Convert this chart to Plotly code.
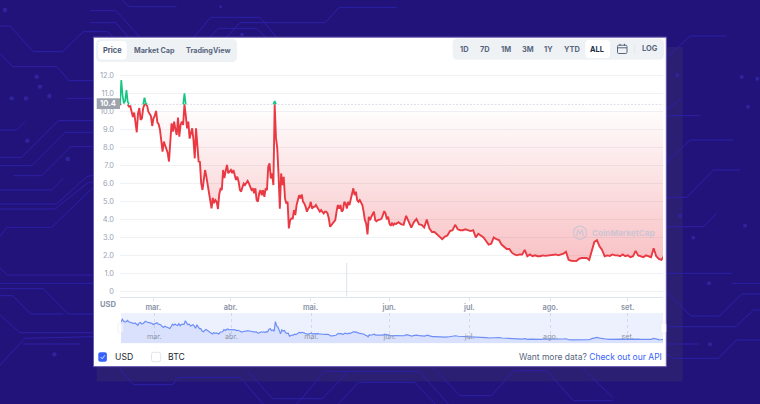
import numpy as np
import pandas as pd
import plotly.graph_objects as go

W, H = 760, 404

# ---------- data ----------
price_12h = [
10.4,11.76,10.89,10.46,10.6,11.2,10.55,10.28,10.3,10.0,9.7,9.95,9.5,8.85,9.9,10.2,9.54,9.63,10.2,10.78,
10.46,10.33,10.0,9.9,9.75,9.2,9.63,9.78,10.04,9.4,9.3,9.0,8.18,7.77,8.33,8.1,7.9,7.7,7.22,8.24,
9.35,8.89,9.44,9.0,8.7,9.67,8.6,9.26,9.44,9.26,11.02,9.8,9.07,9.44,8.5,8.8,9.07,8.42,7.4,9.07,
8.05,7.22,7.2,6.0,5.64,6.4,6.75,6.38,5.95,5.6,5.0,4.62,5.2,4.9,5.08,4.99,4.58,5.4,5.7,5.64,
6.75,6.3,6.7,7.03,6.57,6.7,6.75,6.57,6.75,6.47,6.2,6.38,6.1,5.64,5.55,5.8,6.0,5.92,6.05,6.14,
6.0,5.8,5.64,5.73,5.45,5.73,5.08,4.99,5.45,5.63,5.35,5.63,5.26,5.73,5.63,6.93,7.12,6.28,6.56,5.91,
10.59,8.55,7.95,6.47,4.6,6.56,5.91,6.37,5.17,4.89,4.98,3.5,3.96,4.05,4.05,4.52,4.24,4.8,5.17,5.35,
5.17,5.39,4.98,4.89,4.7,4.43,4.6,4.7,4.98,4.6,4.7,4.7,4.8,4.7,4.6,4.43,4.52,4.43,4.33,4.43,
4.43,4.33,4.05,3.59,3.68,3.78,3.87,3.96,4.43,4.8,4.6,4.8,4.43,4.52,4.98,4.89,4.6,4.98,4.8,5.17,
5.45,5.73,5.35,5.54,5.08,4.98,5.08,4.89,4.8,4.43,3.96,3.78,3.17,4.15,3.96,4.15,4.33,4.43,3.96,3.9,
3.96,3.96,4.0,4.05,4.24,4.46,4.33,4.0,4.15,3.78,3.65,3.78,3.68,3.78,
]
price_daily = [
3.74,3.85,3.74,3.7,4.2,3.9,3.55,3.85,4.02,3.72,3.7,3.55,4.0,3.5,3.3,3.3,3.15,3.0,2.9,3.05,
3.1,3.35,3.4,3.7,3.45,3.4,3.4,3.45,3.4,3.35,3.4,3.0,3.2,3.1,3.0,2.8,2.6,2.65,3.0,2.9,
2.85,2.6,2.5,2.35,2.35,2.15,2.05,2.0,2.05,2.05,2.3,1.95,2.05,1.95,2.0,1.95,1.95,2.0,1.97,2.0,
2.02,2.05,2.05,2.0,2.05,2.1,2.2,1.75,1.7,1.68,1.68,1.8,1.85,1.85,1.85,1.75,2.3,2.75,2.85,2.5,
2.3,1.95,2.0,1.97,2.05,2.0,2.0,1.95,2.05,1.95,2.0,1.9,1.95,2.25,2.0,1.95,1.9,2.0,1.95,1.9,
2.4,1.95,1.8,1.75,1.95,
]
base_price = 10.4
volume_dates = ["2021-05-15"]
volume_values = [33.7]
y_ticks = [0, 1, 2, 3, 4, 5, 6, 7, 8, 9, 10, 11, 12]
y_labels = ["0", "1.0", "2.0", "3.0", "4.0", "5.0", "6.0", "7.0", "8.0", "9.0", "10.0", "11.0", "12.0"]
month_dates = ["2021-03-01", "2021-03-31", "2021-05-01", "2021-05-31 12:00", "2021-07-01 14:00", "2021-08-02", "2021-09-01"]
month_labels = ["mar.", "abr.", "mai.", "jun.", "jul.", "ago.", "set."]
range_tabs = ["1D", "7D", "1M", "3M", "1Y", "YTD", "ALL"]

dates_a = pd.date_range("2021-02-16 02:00", periods=len(price_12h), freq="12h")
dates_b = pd.date_range(dates_a[-1] + pd.Timedelta(hours=12), periods=len(price_daily), freq="24h")
dates = dates_a.append(dates_b)
price = np.array(price_12h + price_daily)
baseline = np.full(len(price), base_price)

def keep_side(mask):
    left = np.r_[mask[1:], False]
    right = np.r_[False, mask[:-1]]
    return mask | left | right

red_line = np.where(keep_side(price <= base_price), np.minimum(price, base_price), np.nan)
green_line = np.where(keep_side(price > base_price), np.maximum(price, base_price), np.nan)
fill_edge = np.minimum(price, base_price)

# ---------- helpers ----------
fx = lambda x: x / W
fy = lambda y: 1 - y / H
FONT = "Inter"

def rrect(x0, y0, x1, y1, r):
    return (f"M{fx(x0+r)},{fy(y0)} L{fx(x1-r)},{fy(y0)} Q{fx(x1)},{fy(y0)} {fx(x1)},{fy(y0+r)} "
            f"L{fx(x1)},{fy(y1-r)} Q{fx(x1)},{fy(y1)} {fx(x1-r)},{fy(y1)} L{fx(x0+r)},{fy(y1)} "
            f"Q{fx(x0)},{fy(y1)} {fx(x0)},{fy(y1-r)} L{fx(x0)},{fy(y0+r)} Q{fx(x0)},{fy(y0)} {fx(x0+r)},{fy(y0)} Z")

shapes, notes = [], []

def rect(x0, y0, x1, y1, fill, line=None, lw=0):
    shapes.append(dict(type="rect", xref="paper", yref="paper", x0=fx(x0), x1=fx(x1), y0=fy(y0), y1=fy(y1),
                       fillcolor=fill, line=dict(width=lw, color=line or fill), layer="below"))

def round_box(x0, y0, x1, y1, r, fill, line="rgba(0,0,0,0)", lw=0):
    shapes.append(dict(type="path", xref="paper", yref="paper", path=rrect(x0, y0, x1, y1, r),
                       fillcolor=fill, line=dict(width=lw, color=line), layer="below"))

def poly(points, color, lw=1.0):
    d = "M" + " L".join(f"{fx(x)},{fy(y)}" for x, y in points)
    shapes.append(dict(type="path", xref="paper", yref="paper", path=d, line=dict(width=lw, color=color), layer="below"))

def dot(x, y, r, color):
    shapes.append(dict(type="circle", xref="paper", yref="paper", x0=fx(x-r), x1=fx(x+r), y0=fy(y-r), y1=fy(y+r),
                       fillcolor=color, line=dict(width=0), layer="below"))

def text(x, y, s, size=7.5, color="#58667e", anchor="center", bold=False):
    notes.append(dict(xref="paper", yref="paper", x=fx(x), y=fy(y), text=f"<b>{s}</b>" if bold else s, showarrow=False,
                      xanchor=anchor, yanchor="middle", font=dict(family=FONT, size=size, color=color)))

# ---------- page background ----------
rect(96.7, 47, 682.7, 381.5, "#2a1f72")
CIRCUIT = "#2c20a6"
left_paths = [
 [(0,78),(30,78),(100,155),(188,155),(250,95),(282,95)],
 [(0,160),(38,200),(170,200),(207,242),(282,242)],
 [(200,295),(282,295)],
 [(0,390),(50,390),(75,365)],
 [(0,472),(65,472),(175,362),(282,362)],
 [(0,497),(95,497),(195,397),(282,397)],
 [(40,527),(125,527),(212,440),(282,440)],
 [(0,570),(155,570),(190,535)],
 [(0,612),(170,612),(260,530),(282,525)],
 [(0,627),(165,627),(265,547),(282,547)],
 [(0,710),(20,682),(155,682),(282,560)],
 [(0,805),(22,825),(282,825)],
 [(0,850),(282,850)],
 [(0,887),(38,887),(92,942),(190,942)],
 [(0,866),(130,866),(205,942),(282,942)],
 [(0,945),(60,998),(282,998)],
 [(0,1095),(75,1015),(282,1010)],
 [(70,1032),(240,1032)],
]
for p in left_paths:
    poly([(x/3, y/3) for x, y in p], CIRCUIT)
right_paths = [
 [(18,175),(90,108),(200,108)],
 [(18,330),(65,295)],
 [(18,347),(120,347)],
 [(18,490),(90,420),(220,420)],
 [(18,592),(80,592),(160,510),(240,510)],
 [(18,680),(130,680),(170,640)],
 [(18,820),(215,820)],
 [(215,850),(300,850)],
 [(18,875),(93,948),(178,948),(245,882),(300,882)],
 [(18,980),(228,980),(280,930),(300,930)],
 [(18,1060),(40,1075),(175,1075),(230,1020),(300,1020)],
 [(18,1032),(115,1032)],
]
for p in right_paths:
    poly([(660+x/3, y/3) for x, y in p], CIRCUIT)
top_paths = [
 [(95,0),(118,20),(260,20)],
 [(0,32),(78,32),(150,112)],
 [(0,68),(78,68),(115,112)],
 [(0,95),(52,95),(70,112)],
 [(312,112),(362,52),(510,52),(560,112)],
 [(360,112),(385,85),(500,85),(527,112)],
 [(410,112),(450,68),(705,68),(748,22),(920,22)],
]
for p in top_paths:
    poly([(90+x/3, y/3) for x, y in p], CIRCUIT)
bottom_paths = [
 [(90,15),(130,62),(248,62),(265,40),(450,40),(520,120)],
 [(470,18),(548,104),(697,104),(775,22),(988,22),(1075,120)],
 [(620,120),(705,22),(775,22)],
 [(745,120),(805,55),(975,55),(1035,120)],
 [(1030,12),(1110,95),(1205,95),(1270,20),(1370,20),(1450,110),(1568,110)],
 [(1480,15),(1568,100)],
]
for p in bottom_paths:
    poly([(90+x/3, 364+y/3) for x, y in p], CIRCUIT)
for x, y in [(110,230),(120,260),(35,295),(78,295),(148,288),(82,422),(203,477),(15,30),(163,1063)]:
    dot(x/3, y/3, 2.2, "#30249c")
for x, y in [(245,231),(292,236),(264,320),(52,226),(60,647),(255,677),(100,713),(147,850),(150,1033)]:
    dot(660+x/3, y/3, 2.0, "#30249c")
dot(90+392/3, 20/3, 1.5, "#30249c")
dot(90+456/3, 104/3, 1.8, "#30249c")

# ---------- card ----------
rect(93.5, 37.2, 666.3, 366.6, "#ffffff", "#6a5db0", 1)
# button groups
round_box(96, 39, 237, 62, 5, "#eff2f5")
round_box(98.3, 41, 126.7, 59.6, 4, "#ffffff")
text(112.5, 50.2, "Price", 7.4, "#4a556b", bold=True)
text(154, 50.2, "Market Cap", 7.2, "#58667e", bold=True)
text(208.8, 50.2, "TradingView", 7.2, "#58667e", bold=True)
round_box(452.7, 38.5, 664, 59.7, 5, "#eff2f5")
round_box(585.3, 40, 610, 58, 4, "#ffffff")
for cx, lab in zip([464.7, 485, 506, 527.7, 548.7, 571.7, 597.3], range_tabs):
    text(cx, 49, lab, 7.4, "#222f45" if lab == "ALL" else "#58667e", bold=True)
text(649.7, 48.3, "LOG", 7.4, "#58667e", bold=True)
poly([(634.7, 44), (634.7, 54)], "#dfe3ea", 0.8)
round_box(617.5, 45.2, 627, 53.5, 1.2, "rgba(0,0,0,0)", "#58667e", 1)
poly([(617.5, 47.8), (627, 47.8)], "#58667e", 1)
poly([(620, 43.8), (620, 46)], "#58667e", 1)
poly([(624.5, 43.8), (624.5, 46)], "#58667e", 1)

# navigator band
rect(121, 313, 663, 343.3, "#edf1fd")
round_box(118, 323, 124, 333, 1.5, "#ffffff", "#dfe3ea", 0.5)
round_box(661, 323, 666, 333, 1.5, "#ffffff", "#dfe3ea", 0.5)

# price tag
rect(96.7, 98.3, 120, 109, "#9ea3ad")
text(108, 103.8, f"{base_price}", 7.6, "#ffffff", bold=True)
text(108.5, 304.5, "USD", 7.6, "#8a93a6", bold=True)

# watermark
WM = "rgba(176,192,214,0.62)"
shapes.append(dict(type="circle", xref="paper", yref="paper", x0=fx(573.5), x1=fx(586.5), y0=fy(226), y1=fy(239.4),
                   line=dict(width=1.2, color=WM), layer="above"))
poly([(576.5, 236), (578, 229.8), (580, 234), (582, 229.8), (583.5, 236)], WM, 1.1)
shapes[-1]["layer"] = "above"
text(589.5, 233, "CoinMarketCap", 8.2, WM, anchor="left", bold=True)

# legend row
round_box(98.3, 352.3, 106.9, 361.7, 2, "#3861fb")
poly([(100.5, 357), (102.2, 358.8), (104.8, 355.3)], "#ffffff", 0.8)
round_box(151.5, 352.3, 160.7, 361.7, 2, "#ffffff", "#e0e4ec", 1)
text(112.8, 357, "USD", 8.6, "#222531", anchor="left")
text(166, 357, "BTC", 8.6, "#222531", anchor="left")
text(663.5, 357, '<span style="color:#58667e">Want more data?</span> <span style="color:#3861fb">Check out our API</span>',
     8.5, "#58667e", anchor="right")

# ---------- traces ----------
RED, GREEN, BLUE = "#ea3943", "#16c784", "#6f8ff7"
fig = go.Figure()
fig.add_bar(x=volume_dates, y=volume_values, yaxis="y3", xaxis="x", width=86400000*0.42,
            marker=dict(color="#dfe5ef", line=dict(width=0)))
fig.add_scatter(x=dates, y=baseline, mode="lines", line=dict(color="#dcdfe5", width=1, dash="2px,1.5px"), xaxis="x", yaxis="y")
fig.add_scatter(x=dates, y=fill_edge, mode="lines", line=dict(width=0), fill="tonexty", xaxis="x", yaxis="y",
                fillgradient=dict(type="vertical", start=base_price, stop=1.7,
                                  colorscale=[[0, "rgba(234,57,67,0)"], [1, "rgba(234,57,67,0.31)"]]))
fig.add_scatter(x=dates, y=red_line, mode="lines", line=dict(color=RED, width=1.9), connectgaps=False, xaxis="x", yaxis="y")
fig.add_scatter(x=dates, y=green_line, mode="lines", line=dict(color=GREEN, width=1.7), connectgaps=False, xaxis="x", yaxis="y")
fig.add_scatter(x=dates, y=price, mode="lines", line=dict(color=BLUE, width=1.2), fill="tozeroy",
                fillcolor="rgba(56,97,251,0.11)", xaxis="x2", yaxis="y2")

x_range = ["2021-02-16 02:00", "2021-09-14 17:00"]
y_px_per_unit = 17.97
y_zero_px = 291.3
y_low = (y_zero_px - 296.7) / y_px_per_unit
y_high = (y_zero_px - 68) / y_px_per_unit
tick_font = dict(family=FONT, size=7.4, color="#9aa3b5")

fig.update_layout(
    width=W, height=H, margin=dict(l=0, r=0, t=0, b=0), autosize=False,
    paper_bgcolor="#22137b", plot_bgcolor="rgba(0,0,0,0)", showlegend=False, hovermode=False,
    shapes=shapes, annotations=notes,
    xaxis=dict(domain=[fx(120), fx(663)], range=x_range, type="date", anchor="y",
               tickvals=month_dates, ticktext=month_labels, ticks="outside", ticklen=3, tickwidth=1, tickcolor="#dfe5ef",
               showgrid=False, showline=True, linecolor="#dfe5ef", linewidth=1.4, zeroline=False,
               tickfont=dict(family=FONT, size=7.4, color="#8a93a6", weight=600), ticklabelstandoff=0),
    yaxis=dict(domain=[fy(296.7), fy(68)], range=[y_low, y_high], anchor="x", tickvals=y_ticks, ticktext=y_labels,
               showgrid=True, gridcolor="#eff2f5", gridwidth=1, zeroline=False, showline=False, ticks="",
               tickfont=tick_font, ticklabelstandoff=5),
    yaxis3=dict(domain=[fy(296.7), fy(68)], range=[0, 228.7], overlaying="y", visible=False, anchor="x"),
    xaxis2=dict(domain=[fx(121), fx(663)], range=x_range, type="date", anchor="y2",
                tickvals=month_dates, ticktext=month_labels, ticks="", ticklabelposition="inside",
                showgrid=True, gridcolor="#d3d9ea", griddash="dot", gridwidth=1, showline=False, zeroline=False,
                tickfont=dict(family=FONT, size=7.2, color="#8a93a6")),
    yaxis2=dict(domain=[fy(343.3), fy(313)], range=[0, 14.85], anchor="x2", visible=False),
)

fig.write_html("out.html", config=dict(displayModeBar=False, staticPlot=True),
               post_script="document.body.style.margin='0';document.body.style.overflow='hidden';")
